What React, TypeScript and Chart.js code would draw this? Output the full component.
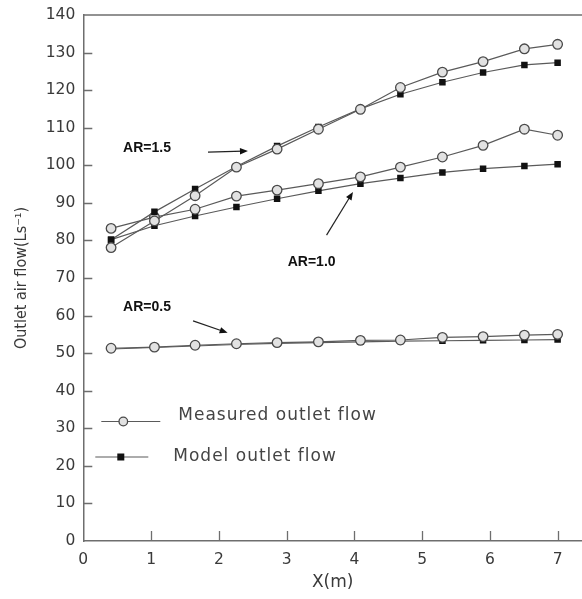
import React, { useEffect, useRef } from "react";
import { Chart, registerables } from "chart.js";

Chart.register(...registerables);

// Distance along the duct (m)
const X = [0.41, 1.05, 1.65, 2.26, 2.86, 3.47, 4.09, 4.68, 5.3, 5.9, 6.51, 7.0];

// Outlet air flow (L s^-1) for three aspect ratios
const AR15_MEASURED = [78.1, 85.2, 91.9, 99.5, 104.3, 109.6, 114.9, 120.7, 124.8, 127.6, 131.0, 132.2];
const AR15_MODEL = [80.2, 87.6, 93.7, 99.7, 105.1, 110.2, 115.0, 118.9, 122.1, 124.7, 126.7, 127.3];
const AR10_MEASURED = [83.2, 86.2, 88.3, 91.8, 93.4, 95.1, 96.9, 99.5, 102.2, 105.3, 109.6, 108.0];
const AR10_MODEL = [80.2, 83.9, 86.5, 88.9, 91.1, 93.2, 95.1, 96.6, 98.1, 99.1, 99.8, 100.3];
const AR05_MEASURED = [51.3, 51.6, 52.1, 52.5, 52.8, 53.0, 53.4, 53.5, 54.2, 54.4, 54.8, 55.0];
const AR05_MODEL = [51.1, 51.5, 51.9, 52.3, 52.6, 52.8, 53.0, 53.2, 53.3, 53.4, 53.5, 53.6];

const X_TICKS = [0, 1, 2, 3, 4, 5, 6, 7];
const Y_TICKS = [0, 10, 20, 30, 40, 50, 60, 70, 80, 90, 100, 110, 120, 130, 140];

const LEGEND_LABELS = ["Measured outlet flow", "Model outlet flow"];

// Curve labels: text anchor and arrow (tail -> head), in data units
const CURVE_LABELS = [
  { text: "AR=1.5", at: [0.94, 104.6], from: [1.84, 103.5], to: [2.43, 103.8] },
  { text: "AR=1.0", at: [3.37, 74.3], from: [3.59, 81.4], to: [3.98, 92.9] },
  { text: "AR=0.5", at: [0.94, 62.3], from: [1.62, 58.6], to: [2.13, 55.4] },
];

const LINE = "#5a5a5a";
const AXIS = "#6e6e6e";
const TEXT = "#3a3a3a";
const TICK_FONT = "'DejaVu Sans', sans-serif";

const toPoints = (ys: number[]) => X.map((x, i) => ({ x, y: ys[i] }));

const measuredStyle = {
  borderColor: LINE,
  borderWidth: 1.2,
  pointStyle: "circle" as const,
  pointRadius: 4.8,
  pointBackgroundColor: "#e2e2e2",
  pointBorderColor: "#4a4a4a",
  pointBorderWidth: 1.3,
  showLine: true,
};

const modelStyle = {
  borderColor: LINE,
  borderWidth: 1.2,
  pointStyle: "rect" as const,
  pointRadius: 4.6,
  pointBackgroundColor: "#111",
  pointBorderColor: "#111",
  pointBorderWidth: 0,
  showLine: true,
};

function drawArrow(ctx: CanvasRenderingContext2D, x1: number, y1: number, x2: number, y2: number) {
  const ang = Math.atan2(y2 - y1, x2 - x1);
  const head = 8;
  const half = 3.2;
  ctx.beginPath();
  ctx.moveTo(x1, y1);
  ctx.lineTo(x2 - Math.cos(ang) * head * 0.6, y2 - Math.sin(ang) * head * 0.6);
  ctx.stroke();
  ctx.beginPath();
  ctx.moveTo(x2, y2);
  ctx.lineTo(x2 - Math.cos(ang) * head - Math.sin(ang) * half, y2 - Math.sin(ang) * head + Math.cos(ang) * half);
  ctx.lineTo(x2 - Math.cos(ang) * head + Math.sin(ang) * half, y2 - Math.sin(ang) * head - Math.cos(ang) * half);
  ctx.closePath();
  ctx.fill();
}

// Frame top edge, inward tick marks, curve labels and the legend
const decorations = {
  id: "decorations",
  afterDraw(chart: any) {
    const { ctx, chartArea, scales } = chart;
    const xs = scales.x;
    const ys = scales.y;
    ctx.save();

    // top frame line
    ctx.strokeStyle = AXIS;
    ctx.lineWidth = 1.5;
    ctx.beginPath();
    ctx.moveTo(chartArea.left, chartArea.top);
    ctx.lineTo(chartArea.right, chartArea.top);
    ctx.stroke();

    // inward ticks
    ctx.lineWidth = 1.3;
    ctx.beginPath();
    Y_TICKS.forEach((v) => {
      if (v === 0 || v === 140) return;
      const py = Math.round(ys.getPixelForValue(v)) + 0.5;
      ctx.moveTo(chartArea.left, py);
      ctx.lineTo(chartArea.left + 9, py);
    });
    X_TICKS.forEach((v) => {
      if (v === 0) return;
      const px = Math.round(xs.getPixelForValue(v)) + 0.5;
      ctx.moveTo(px, chartArea.bottom);
      ctx.lineTo(px, chartArea.bottom - 10);
    });
    ctx.stroke();

    // curve labels with arrows
    ctx.fillStyle = "#111";
    ctx.strokeStyle = "#222";
    ctx.lineWidth = 1.2;
    ctx.font = "bold 14px 'Liberation Sans', Arial, sans-serif";
    ctx.textAlign = "center";
    ctx.textBaseline = "middle";
    CURVE_LABELS.forEach((l) => {
      ctx.fillText(l.text, xs.getPixelForValue(l.at[0]), ys.getPixelForValue(l.at[1]));
      drawArrow(
        ctx,
        xs.getPixelForValue(l.from[0]),
        ys.getPixelForValue(l.from[1]),
        xs.getPixelForValue(l.to[0]),
        ys.getPixelForValue(l.to[1])
      );
    });

    // legend
    const lx = chartArea.left;
    const rows = [
      { y: 421.5, x1: lx + 18, x2: lx + 77, mx: lx + 40, tx: lx + 95, ty: 416, kind: "circle" },
      { y: 457, x1: lx + 12, x2: lx + 65, mx: lx + 37.5, tx: lx + 90, ty: 457, kind: "rect" },
    ];
    rows.forEach((r, i) => {
      ctx.strokeStyle = LINE;
      ctx.lineWidth = 1.2;
      ctx.beginPath();
      ctx.moveTo(r.x1, r.y);
      ctx.lineTo(r.x2, r.y);
      ctx.stroke();
      if (r.kind === "circle") {
        ctx.beginPath();
        ctx.arc(r.mx, r.y, 4.3, 0, Math.PI * 2);
        ctx.fillStyle = "#e2e2e2";
        ctx.fill();
        ctx.strokeStyle = "#4a4a4a";
        ctx.lineWidth = 1.3;
        ctx.stroke();
      } else {
        ctx.fillStyle = "#111";
        ctx.fillRect(r.mx - 3.5, r.y - 3.5, 7, 7);
      }
      ctx.fillStyle = "#444";
      ctx.font = "17px 'DejaVu Sans', sans-serif";
      (ctx as any).letterSpacing = "1px";
      ctx.textAlign = "left";
      ctx.textBaseline = "middle";
      ctx.fillText(LEGEND_LABELS[i], r.tx, r.ty);
      (ctx as any).letterSpacing = "0px";
    });

    ctx.restore();
  },
};

export default function App() {
  const ref = useRef<HTMLCanvasElement | null>(null);

  useEffect(() => {
    document.body.style.margin = "0";
    const canvas = ref.current;
    if (!canvas) return;

    const chart = new Chart(canvas, {
      type: "scatter",
      data: {
        datasets: [
          { label: "AR=1.5 measured", data: toPoints(AR15_MEASURED), ...measuredStyle },
          { label: "AR=1.5 model", data: toPoints(AR15_MODEL), ...modelStyle },
          { label: "AR=1.0 measured", data: toPoints(AR10_MEASURED), ...measuredStyle },
          { label: "AR=1.0 model", data: toPoints(AR10_MODEL), ...modelStyle },
          { label: "AR=0.5 measured", data: toPoints(AR05_MEASURED), ...measuredStyle },
          { label: "AR=0.5 model", data: toPoints(AR05_MODEL), ...modelStyle },
        ],
      },
      options: {
        responsive: false,
        animation: false,
        devicePixelRatio: 1,
        layout: { autoPadding: false, padding: { top: 15, right: 0, left: 0, bottom: 0 } },
        plugins: {
          legend: { display: false },
          tooltip: { enabled: false },
        },
        scales: {
          x: {
            type: "linear",
            min: 0,
            max: 7.36,
            afterBuildTicks: (s: any) => {
              s.ticks = X_TICKS.map((v) => ({ value: v }));
            },
            afterFit: (s: any) => {
              s.height = 58;
              s.paddingLeft = 0;
              s.paddingRight = 0;
            },
            grid: { display: false, drawTicks: false },
            border: { display: true, color: AXIS, width: 1.5 },
            ticks: {
              padding: 10,
              color: TEXT,
              font: { family: TICK_FONT, size: 15.5 },
              callback: (v: any) => String(v),
            },
            title: {
              display: true,
              text: "X(m)",
              color: TEXT,
              font: { family: TICK_FONT, size: 17 },
              padding: { top: 0, bottom: 6 },
            },
          },
          y: {
            type: "linear",
            min: 0,
            max: 140,
            afterBuildTicks: (s: any) => {
              s.ticks = Y_TICKS.map((v) => ({ value: v }));
            },
            afterFit: (s: any) => {
              s.width = 83.3;
              s.paddingTop = 0;
              s.paddingBottom = 0;
            },
            grid: { display: false, drawTicks: false },
            border: { display: true, color: AXIS, width: 1.5 },
            ticks: {
              padding: 8,
              color: TEXT,
              font: { family: TICK_FONT, size: 15.5 },
              callback: (v: any) => String(v),
            },
            title: {
              display: true,
              text: "Outlet air flow(Ls\u207B\u00B9)",
              color: TEXT,
              font: { family: "'Liberation Sans Narrow', 'DejaVu Sans Condensed', sans-serif", size: 16 },
              padding: { top: 12, bottom: 0 },
            },
          },
        },
      },
      plugins: [decorations],
    });

    return () => chart.destroy();
  }, []);

  return (
    <div style={{ width: 582, height: 599, background: "#fff" }}>
      <canvas ref={ref} width={582} height={599} />
    </div>
  );
}
